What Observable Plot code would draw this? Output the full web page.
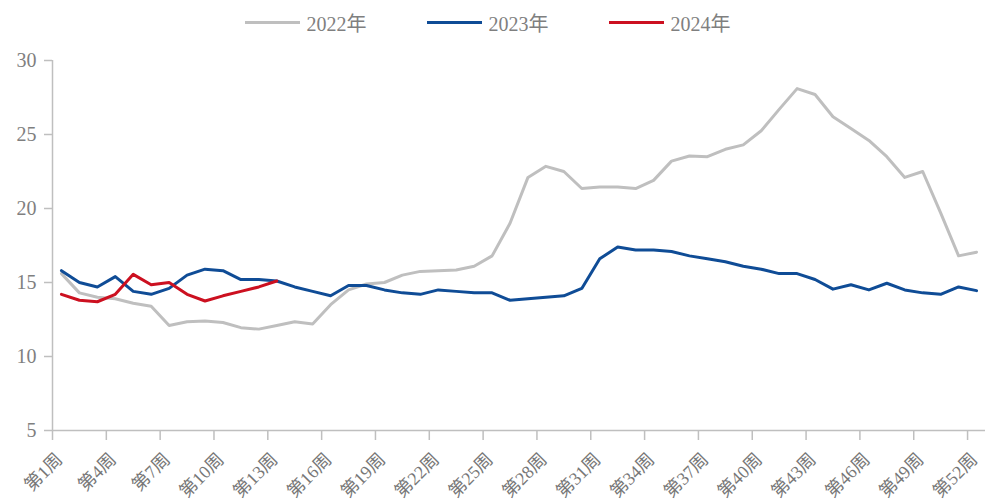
<!DOCTYPE html>
<html><head><meta charset="utf-8">
<script src="https://cdn.jsdelivr.net/npm/d3@7"></script>
<script src="https://cdn.jsdelivr.net/npm/@observablehq/plot@0.6"></script>
<style>
body{margin:0;background:#fff;font-family:"Liberation Serif","Noto Sans CJK SC",serif;}
#legend{height:44px;display:flex;align-items:center;justify-content:center;gap:60px;color:#7f7f7f;font-size:20px;padding-right:14px;}
.item{display:flex;align-items:center}
.sw{width:55px;height:3px;margin-right:7px}
</style></head><body>
<div id="legend"></div>
<div id="chart"></div>
<script>
const weeks = [1,2,3,4,5,6,7,8,9,10,11,12,13,14,15,16,17,18,19,20,21,22,23,24,25,26,27,28,29,30,31,32,33,34,35,36,37,38,39,40,41,42,43,44,45,46,47,48,49,50,51,52];
const labelWeeks = [1,4,7,10,13,16,19,22,25,28,31,34,37,40,43,46,49,52];
const tickBounds = [0.5,3.5,6.5,9.5,12.5,15.5,18.5,21.5,24.5,27.5,30.5,33.5,36.5,39.5,42.5,45.5,48.5,51.5];
const yTicks = [5,10,15,20,25,30];
const seriesNames = ["2022年","2023年","2024年"];
const seriesColors = ["#bfbfbf","#0f4c96","#cc1020"];
const v2022 = [15.6,14.3,14.0,13.9,13.6,13.4,12.1,12.35,12.4,12.3,11.95,11.85,12.1,12.35,12.2,13.5,14.5,14.9,15.0,15.5,15.75,15.8,15.85,16.1,16.8,19.0,22.1,22.85,22.5,21.35,21.45,21.45,21.35,21.9,23.2,23.55,23.5,24.0,24.3,25.25,26.7,28.1,27.7,26.2,25.4,24.6,23.5,22.1,22.5,19.7,16.8,17.05];
const v2023 = [15.8,15.0,14.7,15.4,14.4,14.2,14.6,15.5,15.9,15.8,15.2,15.2,15.1,14.7,14.4,14.1,14.8,14.8,14.5,14.3,14.2,14.5,14.4,14.3,14.3,13.8,13.9,14.0,14.1,14.6,16.6,17.4,17.2,17.2,17.1,16.8,16.6,16.4,16.1,15.9,15.6,15.6,15.2,14.55,14.85,14.5,14.95,14.5,14.3,14.2,14.7,14.45];
const v2024 = [14.2,13.8,13.7,14.2,15.55,14.85,15.0,14.2,13.75,14.1,14.4,14.7,15.1];

const toRows = (vals) => vals.map((v, i) => ({week: weeks[i], value: v}));

// legend
const leg = document.getElementById("legend");
seriesNames.forEach((n, i) => {
  const it = document.createElement("div"); it.className = "item";
  const sw = document.createElement("div"); sw.className = "sw"; sw.style.background = seriesColors[i];
  const tx = document.createElement("span"); tx.textContent = n;
  it.appendChild(sw); it.appendChild(tx); leg.appendChild(it);
});

const chart = Plot.plot({
  width: 989,
  height: 460,
  marginLeft: 52,
  marginRight: 4,
  marginTop: 16,
  marginBottom: 74,
  style: {fontFamily: '"Liberation Serif","Noto Sans CJK SC",serif', background: "#fff"},
  x: {domain: [0.5, 52.5], axis: null},
  y: {domain: [5, 30], axis: null},
  marks: [
    Plot.ruleX([0.5], {stroke: "#bfbfbf", strokeWidth: 1.5}),
    Plot.ruleY([5], {stroke: "#bfbfbf", strokeWidth: 1.5}),
    Plot.axisY(yTicks, {tickSize: 8, tickFormat: () => "", stroke: "#bfbfbf", strokeWidth: 1.5, label: null}),
    Plot.axisY(yTicks, {tickSize: 0, tickPadding: 16, fill: "#7f7f7f", fontSize: 20, tickFormat: d => String(d), label: null}),
    Plot.axisX(tickBounds, {tickSize: 10, tickFormat: () => "", stroke: "#bfbfbf", strokeWidth: 1.5, label: null}),
    Plot.text(labelWeeks, {x: d => d, frameAnchor: "bottom", text: d => `第${d}周`, rotate: -45, textAnchor: "end", lineAnchor: "bottom", dy: 30, dx: 2, fontSize: 18, fill: "#777777"}),
    Plot.line(toRows(v2022), {x: "week", y: "value", stroke: seriesColors[0], strokeWidth: 3}),
    Plot.line(toRows(v2023), {x: "week", y: "value", stroke: seriesColors[1], strokeWidth: 3}),
    Plot.line(toRows(v2024), {x: "week", y: "value", stroke: seriesColors[2], strokeWidth: 3})
  ]
});
document.getElementById("chart").appendChild(chart);
</script>
</body></html>
